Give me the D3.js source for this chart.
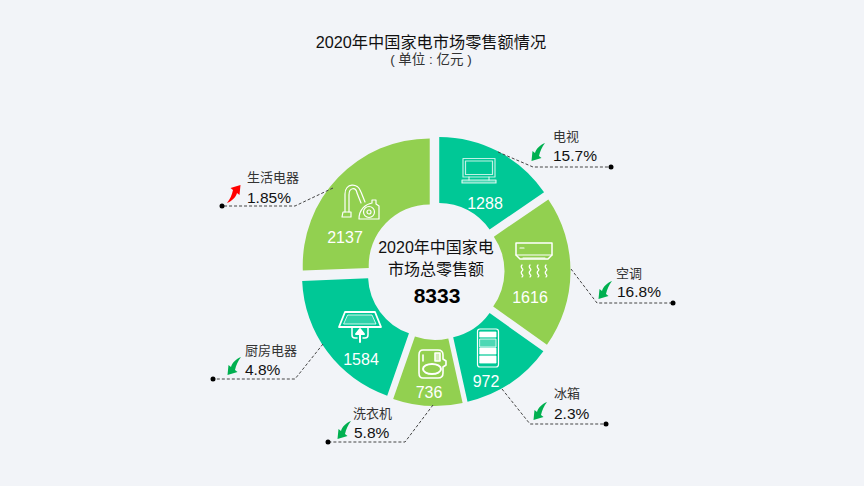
<!doctype html>
<html lang="zh">
<head>
<meta charset="UTF-8">
<title>2020年中国家电市场零售额情况</title>
<script src="https://cdn.jsdelivr.net/npm/d3@7"></script>
<style>
html, body { margin: 0; padding: 0; background: #f2f4f8; }
svg { display: block; }
text { font-family: "Liberation Sans", "Noto Sans CJK SC", sans-serif; }
</style>
</head>
<body>
<script>
var w = 864, h = 486;

// data
var categories = ["电视", "空调", "冰箱", "洗衣机", "厨房电器", "生活电器"];
var sales = [1288, 1616, 972, 736, 1584, 2137];
var growth = ["15.7%", "16.8%", "2.3%", "5.8%", "4.8%", "1.85%"];
var direction = ["down", "down", "down", "down", "down", "up"];
var total = 8333;

// layout of each slice's extras, same order as categories
var valuePos = [[485, 203], [530, 297], [486, 381], [429, 392], [361, 359], [345, 237]];
var iconPos = [[479, 171], [534, 260], [488, 348], [432, 364], [360, 327], [360, 203]];
var leaders = [
	[[498, 152], [533, 167], [611, 167]],
	[[571, 269], [597, 303], [673, 303]],
	[[502, 389], [530, 424], [606, 424]],
	[[433, 405], [405, 442], [328, 442]],
	[[323, 344], [295, 379], [213, 379]],
	[[333, 188], [295, 206], [222, 206]]
];
var labelPos = [[553, 136], [616, 273], [554, 393], [353, 413], [245, 350], [247, 177]];
var pctPos = [[553, 155], [617, 291], [554, 413], [354, 432], [245, 369], [247, 197]];
var arrowPos = [[538, 152], [605, 290], [540, 411], [344, 430], [234, 366], [234, 194]];

var colorTeal = "#00c896", colorGreen = "#92d050";
var explode = 8;

var svg = d3.select("body").append("svg").attr("width", w).attr("height", h);

svg.append("text").attr("x", 431).attr("y", 48).attr("text-anchor", "middle")
	.attr("font-size", 16.2).attr("fill", "#111").text("2020年中国家电市场零售额情况");
svg.append("text").attr("x", 431).attr("y", 64).attr("text-anchor", "middle")
	.attr("font-size", 13.5).attr("fill", "#333").text("( 单位 : 亿元 )");

// donut, every slice pushed out along its own middle angle
var pie = d3.pie().sort(null)(sales);
var arc = d3.arc().innerRadius(61).outerRadius(127);
var chart = svg.append("g").attr("transform", "translate(435.5,271)");

chart.selectAll("path").data(pie).enter().append("path")
	.attr("d", arc)
	.attr("transform", function(d) {
		var mid = (d.startAngle + d.endAngle) / 2;
		return "translate(" + (Math.sin(mid) * explode) + "," + (-Math.cos(mid) * explode) + ")";
	})
	.attr("fill", function(d, i) { return i % 2 ? colorGreen : colorTeal; });

// leader lines
svg.selectAll("polyline.leader").data(leaders).enter().append("polyline")
	.attr("class", "leader")
	.attr("points", function(d) { return d.join(" "); })
	.attr("fill", "none")
	.attr("stroke", "#444")
	.attr("stroke-width", 1)
	.attr("stroke-dasharray", "3,2");

svg.selectAll("circle.end").data(leaders).enter().append("circle")
	.attr("class", "end")
	.attr("cx", function(d) { return d[2][0]; })
	.attr("cy", function(d) { return d[2][1]; })
	.attr("r", 2.5)
	.attr("fill", "#000");

// value labels on the ring
svg.selectAll("text.value").data(sales).enter().append("text")
	.attr("class", "value")
	.attr("x", function(d, i) { return valuePos[i][0]; })
	.attr("y", function(d, i) { return valuePos[i][1] + 6; })
	.attr("text-anchor", "middle")
	.attr("font-size", 16)
	.attr("fill", "#fff")
	.text(function(d) { return d; });

// callout text
svg.selectAll("text.cat").data(categories).enter().append("text")
	.attr("class", "cat")
	.attr("x", function(d, i) { return labelPos[i][0]; })
	.attr("y", function(d, i) { return labelPos[i][1] + 5; })
	.attr("font-size", 13)
	.attr("fill", "#333")
	.text(function(d) { return d; });

svg.selectAll("text.pct").data(growth).enter().append("text")
	.attr("class", "pct")
	.attr("x", function(d, i) { return pctPos[i][0]; })
	.attr("y", function(d, i) { return pctPos[i][1] + 5.5; })
	.attr("font-size", 15.5)
	.attr("fill", "#111")
	.text(function(d) { return d; });

// trend arrows, drawn pointing down-left and turned for "up"
var arrowShape = "M7,-9 C2,-7 -2,-3 -3,1 L-5.5,-1 L-6.5,9 L3.5,6 L1,4 C2,-1 4,-5 7,-9 Z";
svg.selectAll("path.arrow").data(direction).enter().append("path")
	.attr("class", "arrow")
	.attr("d", arrowShape)
	.attr("transform", function(d, i) {
		return "translate(" + arrowPos[i] + ")" + (d === "up" ? " rotate(180)" : "");
	})
	.attr("fill", function(d) { return d === "up" ? "#ff0000" : "#00b050"; });

// centre text
svg.append("text").attr("x", 436).attr("y", 253).attr("text-anchor", "middle")
	.attr("font-size", 16).attr("fill", "#111").text("2020年中国家电");
svg.append("text").attr("x", 436).attr("y", 275).attr("text-anchor", "middle")
	.attr("font-size", 16).attr("fill", "#111").text("市场总零售额");
svg.append("text").attr("x", 437).attr("y", 303).attr("text-anchor", "middle")
	.attr("font-size", 21).attr("font-weight", "bold").attr("fill", "#000").text(total);

// appliance icons, each in its own local coordinates
function icon(i) {
	return svg.append("g")
		.attr("transform", "translate(" + iconPos[i] + ")")
		.attr("fill", "none").attr("stroke", "#fff").attr("stroke-width", 1.2)
		.attr("stroke-linejoin", "round").attr("stroke-linecap", "round");
}
var tv = icon(0);
tv.append("path").attr("d", "M-16,-12.5 H16 V6 H-16 Z").attr("stroke-opacity", 0.75);
tv.append("path").attr("d", "M-13.5,-10 H13.5 V3.5 H-13.5 Z").attr("stroke-opacity", 0.75);
tv.append("path").attr("d", "M-10,6 V9 M10,6 V9").attr("stroke-opacity", 0.75);
tv.append("path").attr("d", "M-17,9 H17 V12 H-17 Z").attr("fill", "#fff").attr("fill-opacity", 0.3).attr("stroke-opacity", 0.8);

var ac = icon(1);
ac.append("path").attr("d", "M-18,-17 H18 V-5 L14,-1 H-14 L-18,-5 Z").attr("stroke-width", 1.5);
ac.append("path").attr("d", "M-18,-5 H18 M-11,-2 H11");
ac.append("path").attr("d", "M-14,-12 H-10");
[-12, -4, 4, 12].forEach(function(x) {
	ac.append("path").attr("d", "M" + x + ",5 c-3,3 3,4 0,6 c-3,3 3,4 0,6");
});

var fridge = icon(2);
fridge.append("rect").attr("x", -10.5).attr("y", -19).attr("width", 21).attr("height", 38).attr("rx", 2.5);
[[-16, 5, 1], [-9, 8, 0.3], [0, 6, 1], [8, 7, 1]].forEach(function(s) {
	fridge.append("rect").attr("x", -8).attr("y", s[0]).attr("width", 16).attr("height", s[1])
		.attr("fill", "#fff").attr("fill-opacity", s[2]).attr("stroke-width", 0.8);
});

var washer = icon(3);
washer.attr("stroke-width", 1.6);
washer.append("path").attr("d", "M-9,-14 H6 Q11,-14 11,-9 V-5 L14,-3 V1 L11,3 V9 Q11,14 6,14 H-9 Q-13,14 -13,9 V-9 Q-13,-14 -9,-14 Z");
washer.append("ellipse").attr("cx", 0).attr("cy", 5).attr("rx", 9).attr("ry", 5).attr("stroke-width", 2);
washer.append("rect").attr("x", 3).attr("y", -11).attr("width", 5).attr("height", 8).attr("fill", "#fff").attr("fill-opacity", 0.6);
washer.append("path").attr("d", "M-9,-9 V-3");

var hood = icon(4);
hood.append("path").attr("d", "M-15,-15 H15 L21,0 H-21 Z").attr("stroke-width", 1.8);
hood.append("path").attr("d", "M-12,-12 H12 L16,-3 H-16 Z").attr("stroke-width", 0.8).attr("fill", "#fff").attr("fill-opacity", 0.18);
hood.append("path").attr("d", "M-8,0 V8 Q-8,11 -5,11 H-3 M3,11 H5 Q8,11 8,8 V0").attr("stroke-width", 1.5);
hood.append("path").attr("d", "M0,15 V6 M-4,7 L0,2 L4,7 Z").attr("stroke-width", 2).attr("fill", "#fff");

var vacuum = icon(5);
vacuum.append("path").attr("d", "M-15,9 V-9 C-15,-20 -2,-21 1,-11 L5,-1");
vacuum.append("path").attr("d", "M-11,9 V-8 C-11,-16 -4,-16 -3,-10 L1,0");
vacuum.append("path").attr("d", "M-17,9 H-9 V14 H-18 Z");
vacuum.append("path").attr("d", "M-1,16 C-1,6 6,1 12,0 V-3 H16 V1 L19,3 V16 Z");
vacuum.append("circle").attr("cx", 9).attr("cy", 9).attr("r", 5.5);
vacuum.append("circle").attr("cx", 9).attr("cy", 9).attr("r", 2);
</script>
</body>
</html>
